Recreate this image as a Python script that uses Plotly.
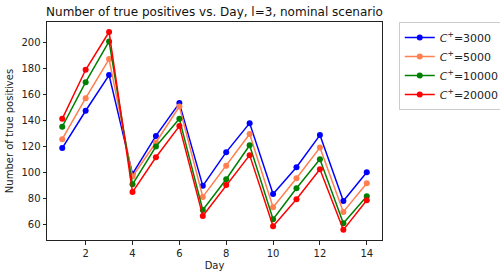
import plotly.graph_objects as go

days = list(range(1, 15))
series_names = ["3000", "5000", "10000", "20000"]
c3000 = [118.8, 147.5, 174.9, 99.0, 128.2, 153.4, 89.8, 115.7, 138.0, 83.6, 104.1, 128.8, 78.2, 100.3]
c5000 = [125.7, 157.2, 187.2, 97.0, 123.1, 150.8, 81.3, 105.2, 129.7, 73.4, 95.7, 119.2, 69.8, 91.8]
c10000 = [135.2, 169.5, 200.8, 91.0, 120.0, 141.3, 71.3, 94.9, 121.0, 64.2, 88.0, 110.3, 61.1, 81.8]
c20000 = [141.3, 179.0, 208.0, 85.0, 111.8, 135.7, 66.7, 90.5, 113.4, 58.8, 79.5, 102.6, 56.0, 78.8]
colors = ["blue", "coral", "green", "red"]
x_ticks = [2, 4, 6, 8, 10, 12, 14]
y_ticks = [60, 80, 100, 120, 140, 160, 180, 200]

font = "DejaVu Sans"
fig = go.Figure()
for name, vals, col in zip(series_names, [c3000, c5000, c10000, c20000], colors):
    fig.add_trace(go.Scatter(
        x=days, y=vals, mode="lines+markers",
        name=f"<i>C</i><sup>+</sup>={name}",
        line=dict(color=col, width=1.5),
        marker=dict(color=col, size=6),
    ))

axis_common = dict(showline=True, linecolor="#222222", linewidth=1, mirror=True,
                   ticks="outside", ticklen=3.5, tickwidth=1, tickcolor="#222222",
                   showgrid=False, zeroline=False, automargin=False,
                   tickfont=dict(family=font, size=10, color="#222222"))
fig.update_layout(
    width=500, height=278,
    margin=dict(l=47, r=118, t=22, b=38, autoexpand=False),
    paper_bgcolor="white", plot_bgcolor="white",
    font=dict(family=font, size=10, color="#222222"),
    title=dict(text="Number of true positives vs. Day, l=3, nominal scenario",
               xref="paper", x=0.5, xanchor="center", y=1 - 12 / 278, yanchor="middle",
               font=dict(family=font, size=12, color="#111111")),
    xaxis=dict(range=[0.35, 14.65], tickvals=x_ticks,
               title=dict(text="Day", font=dict(size=10), standoff=4), **axis_common),
    yaxis=dict(range=[48.2, 215.7], tickvals=y_ticks,
               title=dict(text="Number of true positives", font=dict(size=10), standoff=5), **axis_common),
    legend=dict(x=1.05, y=1.0, xanchor="left", yanchor="top",
                bordercolor="#cccccc", borderwidth=1, bgcolor="white",
                font=dict(family=font, size=11), tracegroupgap=0, itemwidth=30),
)
fig.write_html("out.html", config={"displayModeBar": False},
               post_script="document.body.style.margin='0';document.body.style.overflow='hidden';")
